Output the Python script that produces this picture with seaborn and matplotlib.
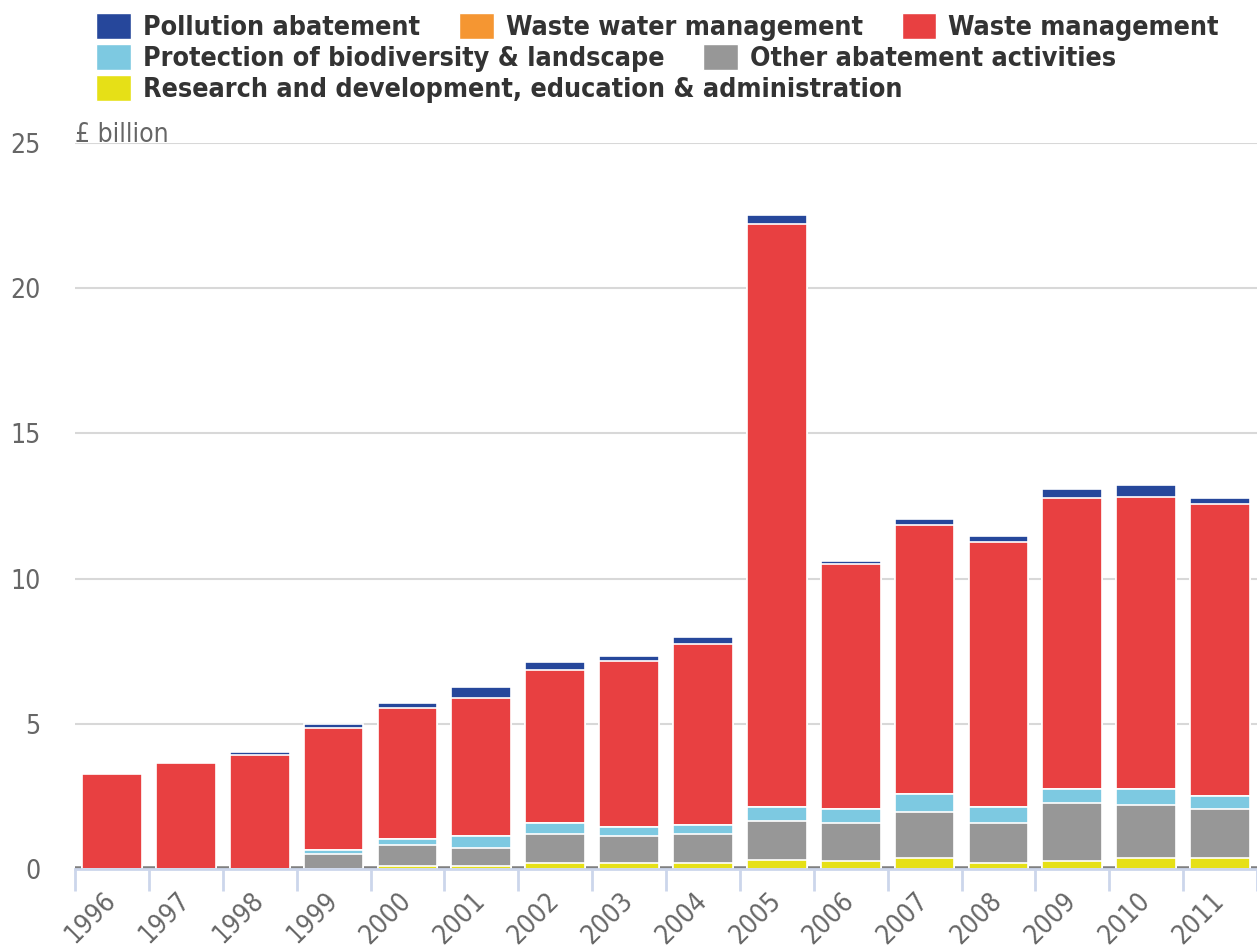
import numpy as np
import pandas as pd
import matplotlib.pyplot as plt
import seaborn as sns
from matplotlib.patches import Patch

# data (£ billion)
years = [str(y) for y in range(1996, 2012)]
research = [0.0, 0.0, 0.0, 0.0, 0.10, 0.10, 0.20, 0.20, 0.20, 0.30, 0.28, 0.37, 0.20, 0.28, 0.37, 0.37]
other = [0.0, 0.0, 0.0, 0.50, 0.71, 0.64, 1.00, 0.92, 1.00, 1.36, 1.30, 1.60, 1.38, 2.00, 1.83, 1.68]
biodiversity = [0.0, 0.0, 0.0, 0.17, 0.24, 0.39, 0.40, 0.32, 0.32, 0.47, 0.47, 0.62, 0.55, 0.46, 0.54, 0.46]
waste_water = [0.0] * 16
waste_mgmt = [3.27, 3.65, 3.91, 4.19, 4.48, 4.77, 5.26, 5.73, 6.23, 20.09, 8.46, 9.24, 9.13, 10.02, 10.07, 10.05]
pollution = [0.0, 0.0, 0.12, 0.14, 0.19, 0.37, 0.26, 0.18, 0.23, 0.30, 0.10, 0.22, 0.21, 0.34, 0.43, 0.21]

names = ["Research and development, education & administration", "Other abatement activities",
         "Protection of biodiversity & landscape", "Waste water management",
         "Waste management", "Pollution abatement"]
colors = ["#e6e017", "#979797", "#7dc9e1", "#f59632", "#e84041", "#26479b"]

df = pd.DataFrame({"year": years})
for n, v in zip(names, [research, other, biodiversity, waste_water, waste_mgmt, pollution]):
    df[n] = v
cum = df[names].cumsum(axis=1)

sns.set_theme(style="white")
plt.rcParams["font.family"] = ["DejaVu Sans"]
plt.rcParams["font.stretch"] = "condensed"

fig = plt.figure(figsize=(12.57, 9.47), dpi=100)
ax = fig.add_axes([75 / 1257, 1 - 869 / 947, 1182 / 1257, 726 / 947])

# gray marks at the baseline between bars
ax.axhline(0, color="#808080", lw=4, zorder=0.9)

# stacked bars: draw cumulative totals from the top series down
for n, c in zip(names[::-1], colors[::-1]):
    sns.barplot(x=df["year"], y=cum[n], color=c, saturation=1, width=0.81,
                edgecolor="white", linewidth=1.2, ax=ax, zorder=2)

ax.set_xlim(-0.5, 15.5)
ax.set_ylim(0, 25)
ax.set_yticks(range(0, 26, 5))
ax.yaxis.grid(True, color="#d8d8d8", lw=1.5)
ax.xaxis.grid(False)
ax.set_axisbelow(True)
ax.set_xlabel("")
ax.set_ylabel("")

for s in ["left", "top", "right"]:
    ax.spines[s].set_visible(False)
ax.spines["bottom"].set_color("#ccd6eb")
ax.spines["bottom"].set_linewidth(2)

ax.set_xticks(range(16))
ax.set_xticklabels(years, rotation=45, ha="right", va="center", rotation_mode="anchor")
ax.set_xticks(np.arange(-0.5, 16, 1), minor=True)
ax.tick_params(axis="x", which="major", length=0, pad=20, labelsize=19, labelcolor="#666666")
ax.tick_params(axis="x", which="minor", length=16, width=2, color="#ccd6eb", direction="out", bottom=True)
ax.tick_params(axis="y", length=0, pad=25, labelsize=19, labelcolor="#666666")

ax.text(0, 25.05, "£ billion", fontsize=19, color="#666666", ha="left", va="baseline",
        transform=ax.get_yaxis_transform())

# legend laid out row by row like the original
rows = [[5, 3, 4], [2, 1], [0]]
row_y = [27, 58, 89]
for r, yc in zip(rows, row_y):
    handles = [Patch(facecolor=colors[i], edgecolor="white") for i in r]
    leg = fig.legend(handles, [names[i] for i in r], loc="center left",
                     bbox_to_anchor=(96 / 1257, 1 - yc / 947), ncol=len(r), frameon=False,
                     borderpad=0, borderaxespad=0, handlelength=1.3, handleheight=1.1,
                     handletextpad=0.45, columnspacing=1.45,
                     prop=dict(weight="bold", size=19.3))
    for t in leg.get_texts():
        t.set_color("#333333")

fig.savefig("out.png", dpi=100)
